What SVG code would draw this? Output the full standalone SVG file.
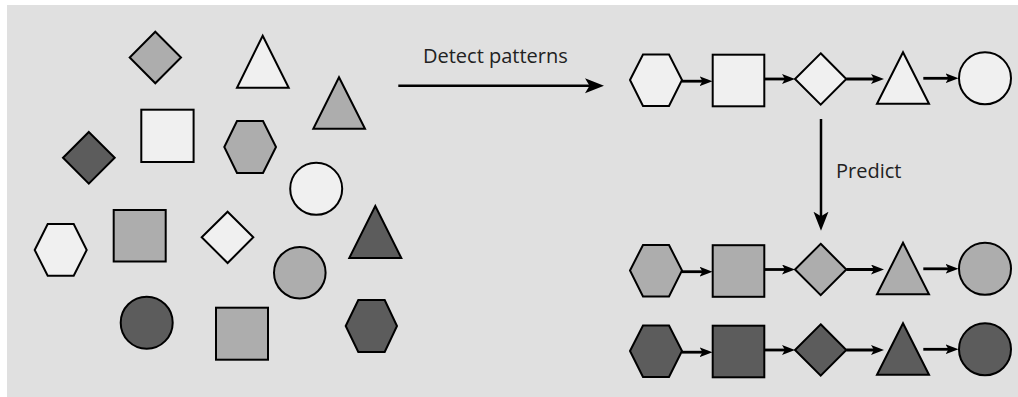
<svg xmlns="http://www.w3.org/2000/svg" width="1018" height="397" viewBox="0 0 1018 397">
<style>
.l{fill:#f0f0f0}
.g{fill:#adadad}
.d{fill:#5c5c5c}
.s{stroke:#000;stroke-width:2;stroke-linejoin:miter}
.c{stroke:#000;fill:none}
.big{stroke-width:2.5}
.sm{stroke-width:2.8}
.t{font-family:"Open Sans","Noto Sans",sans-serif;font-size:20px;fill:#222}
</style>
<defs>
<marker id="ah" markerUnits="userSpaceOnUse" markerWidth="20" markerHeight="16" refX="11" refY="7.5" orient="auto">
<path d="M0,0 L19,7.5 L0,15 L4.5,7.5 Z" fill="#000"/>
</marker>
<marker id="as" markerUnits="userSpaceOnUse" markerWidth="14" markerHeight="11" refX="8" refY="5" orient="auto">
<path d="M0,0 L13,5 L0,10 L3,5 Z" fill="#000"/>
</marker>
</defs>
<rect x="7" y="5" width="1011" height="392" fill="#e0e0e0"/>

<!-- left scattered shapes -->
<g id="n1"><polygon class="g s" points="155.3,31.7 181,57.5 155.3,83.3 129.7,57.5"/></g>
<g id="n2"><polygon class="l s" points="262.7,35.7 288.7,87.7 237,87.7"/></g>
<g id="n3"><polygon class="g s" points="339,77.3 365,128.7 313.3,128.7"/></g>
<g id="n4"><polygon class="d s" points="88.8,132 114.7,157.8 88.8,183.7 63,157.8"/></g>
<g id="n5"><rect class="l s" x="141.3" y="109.7" width="52.3" height="52.3"/></g>
<g id="n6"><polygon class="g s" points="224.3,147 237,121 263,121 276,147 263,173 237,173"/></g>
<g id="n7"><circle class="l s" cx="316.2" cy="188.8" r="26"/></g>
<g id="n8"><polygon class="l s" points="34.7,250 47.7,224 73.7,224 86.7,250 73.7,275.7 47.7,275.7"/></g>
<g id="n9"><rect class="g s" x="113.7" y="210" width="52" height="51.5"/></g>
<g id="n10"><polygon class="l s" points="227.6,211.7 253.3,237.3 227.6,263 201.7,237.3"/></g>
<g id="n11"><circle class="g s" cx="299.8" cy="272.7" r="25.8"/></g>
<g id="n12"><polygon class="d s" points="375.3,206 401.3,258 349.3,258"/></g>
<g id="n13"><circle class="d s" cx="146.7" cy="322.7" r="26"/></g>
<g id="n14"><rect class="g s" x="216" y="307.7" width="52" height="52"/></g>
<g id="n15"><polygon class="d s" points="345.7,326 358.3,300 384.7,300 397,326 384.7,352 358.3,352"/></g>

<!-- labels -->
<g id="lbl-detect"><text class="t" x="423" y="62.7">Detect patterns</text></g>
<g id="lbl-predict"><text class="t" x="836" y="178.3">Predict</text></g>

<!-- pattern row 1 -->
<g id="row1">
<g id="r1-hex"><polygon class="l s" points="630,80 643,54.5 669,54.5 682,80 669,106 643,106"/></g>
<g id="r1-sq"><rect class="l s" x="712.7" y="54.7" width="51.6" height="51.6"/></g>
<g id="r1-dia"><polygon class="l s" points="820.7,53.3 846.3,79 820.7,104.7 795,79"/></g>
<g id="r1-tri"><polygon class="l s" points="903,52.3 929,103.7 877,103.7"/></g>
<g id="r1-cir"><circle class="l s" cx="985" cy="78.3" r="26"/></g>
</g>

<!-- pattern row 2 -->
<g id="row2" transform="translate(0,190.5)">
<g id="r2-hex"><polygon class="g s" points="630,80 643,54.5 669,54.5 682,80 669,106 643,106"/></g>
<g id="r2-sq"><rect class="g s" x="712.7" y="54.7" width="51.6" height="51.6"/></g>
<g id="r2-dia"><polygon class="g s" points="820.7,53.3 846.3,79 820.7,104.7 795,79"/></g>
<g id="r2-tri"><polygon class="g s" points="903,52.3 929,103.7 877,103.7"/></g>
<g id="r2-cir"><circle class="g s" cx="985" cy="78.3" r="26"/></g>
</g>

<!-- pattern row 3 -->
<g id="row3" transform="translate(0,271)">
<g id="r3-hex"><polygon class="d s" points="630,80 643,54.5 669,54.5 682,80 669,106 643,106"/></g>
<g id="r3-sq"><rect class="d s" x="712.7" y="54.7" width="51.6" height="51.6"/></g>
<g id="r3-dia"><polygon class="d s" points="820.7,53.3 846.3,79 820.7,104.7 795,79"/></g>
<g id="r3-tri"><polygon class="d s" points="903,52.3 929,103.7 877,103.7"/></g>
<g id="r3-cir"><circle class="d s" cx="985" cy="78.3" r="26"/></g>
</g>

<!-- connectors -->
<g id="connectors">
<line class="c big" x1="398.3" y1="85.7" x2="596" y2="85.7" marker-end="url(#ah)"/>
<line class="c big" x1="821" y1="119" x2="821" y2="222.7" marker-end="url(#ah)"/>
<g id="c-row1">
<line class="c sm" x1="682" y1="81.2" x2="707.5" y2="81.2" marker-end="url(#as)"/>
<line class="c sm" x1="764.3" y1="79" x2="790" y2="79" marker-end="url(#as)"/>
<line class="c sm" x1="846.3" y1="79" x2="879" y2="79" marker-end="url(#as)"/>
<line class="c sm" x1="923.3" y1="78.3" x2="953.5" y2="78.3" marker-end="url(#as)"/>
</g>
<g id="c-row2" transform="translate(0,190.5)">
<line class="c sm" x1="682" y1="81.2" x2="707.5" y2="81.2" marker-end="url(#as)"/>
<line class="c sm" x1="764.3" y1="79" x2="790" y2="79" marker-end="url(#as)"/>
<line class="c sm" x1="846.3" y1="79" x2="879" y2="79" marker-end="url(#as)"/>
<line class="c sm" x1="923.3" y1="78.3" x2="953.5" y2="78.3" marker-end="url(#as)"/>
</g>
<g id="c-row3" transform="translate(0,271)">
<line class="c sm" x1="682" y1="81.2" x2="707.5" y2="81.2" marker-end="url(#as)"/>
<line class="c sm" x1="764.3" y1="79" x2="790" y2="79" marker-end="url(#as)"/>
<line class="c sm" x1="846.3" y1="79" x2="879" y2="79" marker-end="url(#as)"/>
<line class="c sm" x1="923.3" y1="78.3" x2="953.5" y2="78.3" marker-end="url(#as)"/>
</g>
</g>
</svg>
